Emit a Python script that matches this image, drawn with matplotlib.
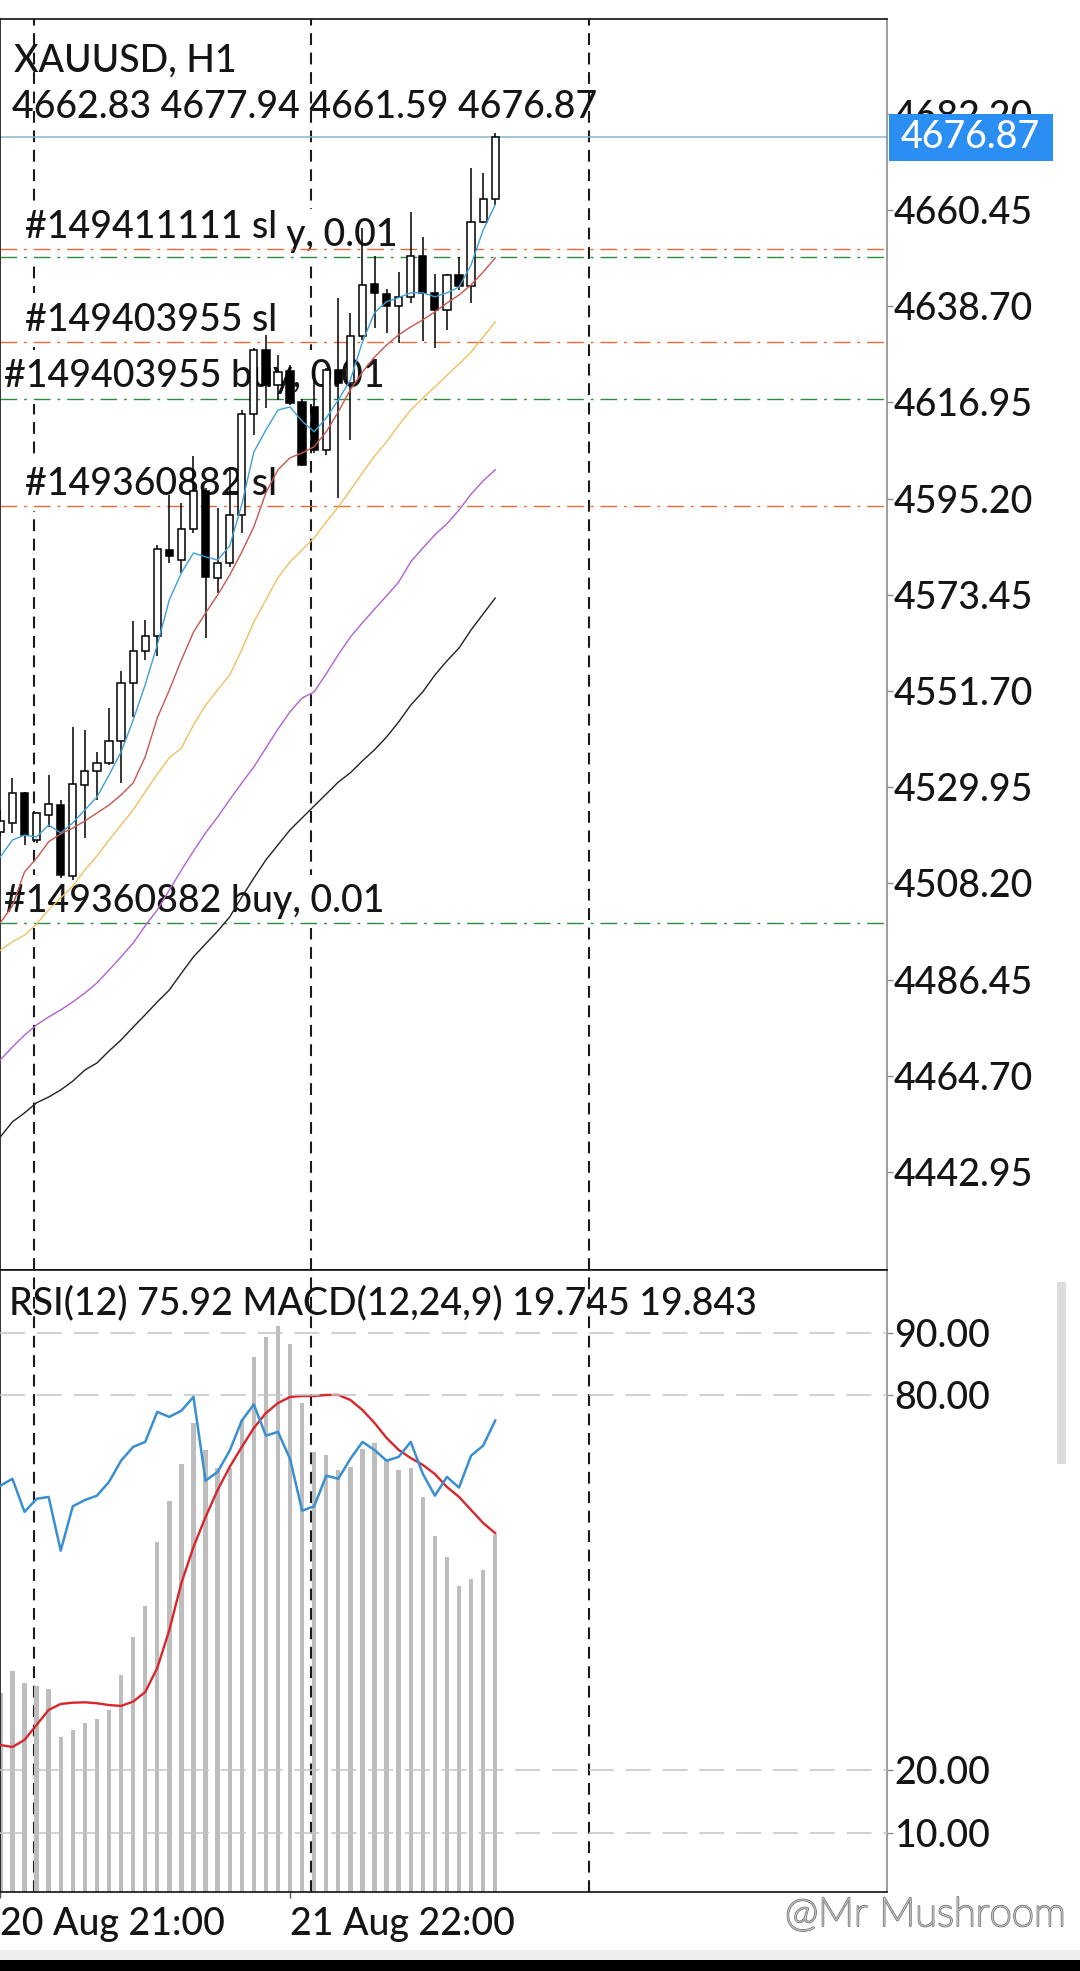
import matplotlib
matplotlib.use("Agg")
import matplotlib.pyplot as plt
import matplotlib.patheffects as pe
from matplotlib.patches import Rectangle
import numpy as np

plt.rcParams['font.family'] = ['Lato', 'DejaVu Sans']
plt.rcParams['font.weight'] = 'medium'
plt.rcParams['lines.scale_dashes'] = False

W, H = 1080, 1971

# XAUUSD H1 bars, oldest first
opens = [4519.9, 4521.8, 4528.6, 4518.0, 4523.7, 4525.9, 4509.9, 4530.5, 4533.5, 4535.4,
         4540.3, 4553.5, 4560.8, 4564.1, 4583.6, 4581.4, 4588.2, 4596.8, 4577.3, 4580.7,
         4591.5, 4614.3, 4628.8, 4620.9, 4624.0, 4617.1, 4615.9, 4606.2, 4624.3, 4621.3,
         4632.0, 4643.7, 4641.5, 4638.8, 4640.7, 4650.1, 4641.6, 4637.9, 4645.8, 4643.3,
         4657.8, 4662.83]
highs = [4524.8, 4532.0, 4528.9, 4524.3, 4532.7, 4527.1, 4543.6, 4542.9, 4538.0, 4547.8,
         4556.1, 4567.4, 4567.8, 4584.7, 4596.0, 4594.2, 4604.7, 4597.6, 4593.0, 4602.4,
         4615.2, 4629.2, 4632.2, 4627.7, 4625.4, 4617.6, 4624.3, 4624.7, 4640.5, 4637.2,
         4656.3, 4650.1, 4642.5, 4646.5, 4659.9, 4654.4, 4646.0, 4646.0, 4649.9, 4669.9,
         4668.8, 4677.94]
lows = [4518.9, 4519.5, 4516.9, 4517.3, 4521.0, 4509.5, 4509.0, 4518.4, 4527.1, 4535.0,
        4530.9, 4545.9, 4558.7, 4559.5, 4580.6, 4578.3, 4587.4, 4563.6, 4573.8, 4579.8,
        4587.4, 4609.6, 4615.6, 4617.5, 4616.4, 4602.5, 4605.5, 4605.1, 4595.3, 4608.5,
        4631.1, 4633.7, 4632.6, 4630.3, 4639.5, 4630.7, 4629.2, 4633.3, 4642.4, 4639.4,
        4657.5, 4661.59]
closes = [4522.2, 4528.7, 4519.2, 4524.0, 4526.2, 4510.1, 4530.7, 4533.5, 4535.4, 4540.3,
          4553.5, 4560.8, 4564.1, 4583.7, 4582.2, 4588.3, 4596.8, 4577.5, 4580.7, 4591.5,
          4614.3, 4628.8, 4620.9, 4623.9, 4616.8, 4602.8, 4606.2, 4624.3, 4621.3, 4632.0,
          4643.5, 4641.6, 4638.8, 4640.7, 4650.1, 4641.6, 4637.9, 4645.8, 4643.3, 4657.8,
          4662.8, 4676.87]

# moving averages
ma_blue = [4514.2, 4518.0, 4519.1, 4518.7, 4521.4, 4519.6, 4521.9, 4524.8, 4527.7, 4532.7,
           4537.9, 4545.1, 4553.1, 4562.1, 4572.3, 4578.4, 4582.9, 4582.0, 4581.3, 4584.5,
           4593.8, 4605.7, 4610.7, 4615.2, 4615.9, 4612.7, 4610.3, 4613.4, 4617.5, 4622.0,
           4630.6, 4637.2, 4639.7, 4640.6, 4641.7, 4641.7, 4640.8, 4641.7, 4643.0, 4648.0,
           4655.9, 4661.6]
ma_red = [4499.3, 4503.1, 4510.8, 4513.9, 4517.6, 4519.4, 4520.7, 4522.3, 4524.1, 4525.9,
          4528.2, 4530.9, 4536.8, 4545.6, 4551.9, 4558.7, 4565.0, 4569.3, 4573.4, 4577.9,
          4583.1, 4588.8, 4596.5, 4601.7, 4604.4, 4605.5, 4606.9, 4610.3, 4614.8, 4619.8,
          4623.8, 4627.2, 4629.9, 4632.2, 4634.0, 4635.6, 4637.4, 4639.4, 4641.2, 4643.5,
          4646.4, 4649.6]
ma_yellow = [4493.1, 4495.0, 4496.5, 4499.0, 4502.2, 4504.9, 4507.6, 4511.2, 4514.4, 4518.0,
             4521.4, 4524.8, 4528.9, 4532.9, 4536.6, 4538.8, 4544.0, 4548.5, 4551.9, 4555.3,
             4561.0, 4567.3, 4572.3, 4577.3, 4580.9, 4583.6, 4586.3, 4589.9, 4593.3, 4597.1,
             4601.0, 4604.8, 4608.0, 4611.8, 4615.2, 4617.9, 4620.4, 4623.1, 4625.6, 4628.3,
             4631.7, 4635.1]
ma_purple = [4468.3, 4471.2, 4473.9, 4476.2, 4478.0, 4479.6, 4481.4, 4483.4, 4485.7, 4488.6,
             4491.6, 4494.7, 4498.6, 4502.2, 4506.7, 4511.2, 4515.5, 4519.6, 4523.2, 4527.1,
             4530.9, 4534.5, 4538.8, 4543.1, 4547.0, 4550.1, 4551.5, 4555.6, 4559.9, 4563.9,
             4567.1, 4570.2, 4573.2, 4576.3, 4580.9, 4584.0, 4587.0, 4589.5, 4592.6, 4596.2,
             4599.2, 4601.7]
ma_black = [4450.9, 4454.3, 4456.3, 4458.6, 4459.9, 4461.5, 4463.5, 4466.0, 4467.6, 4470.3,
            4472.8, 4475.7, 4478.5, 4481.4, 4484.1, 4487.9, 4491.6, 4494.5, 4497.4, 4500.6,
            4505.1, 4509.4, 4513.5, 4516.9, 4520.3, 4523.0, 4525.7, 4528.4, 4531.1, 4533.2,
            4535.9, 4538.4, 4541.3, 4544.7, 4548.5, 4551.5, 4555.3, 4558.5, 4561.4, 4565.5,
            4569.1, 4572.7]

# RSI(12) and MACD(12,24,9)
rsi = [65.5, 66.6, 61.3, 63.4, 63.7, 55.1, 62.2, 63.2, 63.9, 66.1,
       69.5, 71.7, 72.5, 77.3, 76.5, 77.5, 79.7, 66.3, 67.7, 71.1,
       75.9, 78.5, 73.5, 74.1, 69.8, 61.5, 62.2, 67.1, 66.6, 69.8,
       72.5, 71.2, 69.5, 70.1, 72.5, 67.4, 63.9, 66.9, 65.2, 70.3,
       71.9, 75.92]
macd = [10.99, 12.24, 11.58, 11.39, 11.21, 8.56, 8.96, 9.33, 9.55, 10.07,
        12.00, 14.12, 15.82, 19.38, 21.64, 23.67, 25.96, 24.45, 23.43, 23.43,
        26.11, 29.57, 30.68, 31.31, 30.29, 27.03, 24.35, 24.17, 23.34, 23.49,
        24.49, 24.85, 23.93, 23.34, 23.43, 21.83, 19.69, 18.55, 16.92, 17.30,
        17.81, 19.745]
signal = [8.13, 8.02, 8.41, 9.24, 10.07, 10.40, 10.47, 10.49, 10.44, 10.34,
          10.29, 10.53, 11.06, 12.39, 14.49, 17.09, 19.08, 20.74, 22.23, 23.51,
          24.61, 25.66, 26.49, 27.04, 27.38, 27.43, 27.43, 27.49, 27.49, 27.21,
          26.66, 25.94, 25.11, 24.45, 24.00, 23.62, 23.12, 22.40, 21.85, 21.13,
          20.41, 19.843]

# open orders
order_labels = ['#149411111 buy, 0.01', '#149411111 sl', '#149403955 sl',
                '#149403955 buy, 0.01', '#149360882 sl', '#149360882 buy, 0.01']
order_prices = [4649.75, 4651.6, 4630.6, 4617.8, 4593.5, 4499.2]
order_kinds = ['buy', 'sl', 'sl', 'buy', 'sl', 'buy']
label_px = [17, 25, 25, 4, 25, 4]   # left edge of each label, px

price_ticks = [4682.20, 4660.45, 4638.70, 4616.95, 4595.20, 4573.45,
               4551.70, 4529.95, 4508.20, 4486.45, 4464.70, 4442.95]
rsi_levels = [90, 80, 20, 10]
day_start_bars = [3, 26, 49]
xtick_bars = [0, 24]
xtick_labels = ['20 Aug 21:00', '21 Aug 22:00']

x = np.arange(len(closes))
FS = 27

fig = plt.figure(figsize=(W / 100, H / 100), dpi=100)
fig.patch.set_facecolor('white')

def fy(py):
    return 1 - py / H

# ---------------- main price panel ----------------
ax = fig.add_axes([0, fy(1270), 887 / W, (1270 - 19) / H])
ax.set_xlim(-0.03, 73.46)
ax.set_ylim(4420.8, 4703.6)
for s in ['top', 'left', 'bottom']:
    ax.spines[s].set_color('#111111')
    ax.spines[s].set_linewidth(1.2)
ax.spines['right'].set_color('#8c8c8c')
ax.spines['right'].set_linewidth(1.2)
ax.set_xticks([])
ax.yaxis.tick_right()
ax.set_yticks(price_ticks)
ax.set_yticklabels([f'{v:.2f}' for v in price_ticks])
ax.tick_params(axis='y', length=4, width=1, color='#8c8c8c', pad=1,
               labelsize=FS, labelcolor='#151515')

for d in day_start_bars:
    ax.axvline(d - 0.25, color='#1a1a1a', lw=1.5, ls=(0, (8.5, 5.5)), zorder=1)

# order labels then order lines
for lab, p, k, px in zip(order_labels, order_prices, order_kinds, label_px):
    ax.annotate(lab, xy=(px / 887, p), xycoords=ax.get_yaxis_transform(),
                xytext=(0, 8), textcoords='offset points', fontsize=FS,
                color='#151515', va='baseline', ha='left', zorder=1.8,
                bbox=dict(boxstyle='square,pad=0.25', fc='white', ec='none'))
for p, k in zip(order_prices, order_kinds):
    col = '#e8693a' if k == 'sl' else '#2e8b3e'
    ax.axhline(p, color=col, lw=1.0, ls=(0, (12, 5, 2, 5)), zorder=2.2)

# last price line
ax.axhline(closes[-1], color='#86b7cf', lw=1.1, zorder=2.3)

# candles
o = np.array(opens); c = np.array(closes)
up = c >= o
ax.vlines(x, lows, highs, color='black', lw=1.1, zorder=3)
ax.bar(x, np.abs(c - o), bottom=np.minimum(o, c), width=0.6,
       color=np.where(up, 'white', 'black'), edgecolor='black', linewidth=1.1, zorder=3.2)

# moving averages
for ma, col in [(ma_black, '#222222'), (ma_purple, '#b060d6'), (ma_yellow, '#f0c060'),
                (ma_red, '#c8564e'), (ma_blue, '#3f9fd8')]:
    ax.plot(x, ma, color=col, lw=1.0, zorder=4)

# price tag on the axis
ax.add_patch(Rectangle((1.002, closes[-1] - 5.3), 0.185, 10.6,
                       transform=ax.get_yaxis_transform(), clip_on=False,
                       facecolor='#2b8ef2', edgecolor='none', zorder=10))
ax.text(1.0935, closes[-1], f'{closes[-1]:.2f}', transform=ax.get_yaxis_transform(),
        color='white', fontsize=FS, ha='center', va='center', zorder=11, clip_on=False)

fig.text(14 / W, fy(72), 'XAUUSD, H1', fontsize=FS, color='#151515', va='baseline')
fig.text(12 / W, fy(118), f'{opens[-1]:.2f} {highs[-1]:.2f} {lows[-1]:.2f} {closes[-1]:.2f}',
         fontsize=FS, color='#151515', va='baseline')

# ---------------- RSI + MACD panel ----------------
axm = fig.add_axes([0, fy(1892), 887 / W, (1892 - 1270) / H])
axm.set_xlim(-0.03, 73.46)
axm.set_ylim(0, 34.4)
axr = axm.twinx()
axr.set_ylim(0.5, 100)
axr.set_xlim(-0.03, 73.46)

for s in ['top', 'left', 'bottom']:
    axm.spines[s].set_color('#111111')
    axm.spines[s].set_linewidth(1.2)
axm.spines['right'].set_color('#8c8c8c')
axm.spines['right'].set_linewidth(1.2)
for s in axr.spines.values():
    s.set_visible(False)

axm.tick_params(axis='y', left=False, labelleft=False, right=False, labelright=False)
axm.set_xticks(xtick_bars)
axm.set_xticklabels(xtick_labels)
for lbl in axm.get_xticklabels():
    lbl.set_ha('left')
axm.tick_params(axis='x', length=4, width=1, color='#555555', pad=7,
                labelsize=FS, labelcolor='#151515')

axr.set_yticks(rsi_levels)
axr.set_yticklabels([f'{v:.2f}' for v in rsi_levels])
axr.tick_params(axis='y', length=4, width=1, color='#8c8c8c', pad=1,
                labelsize=FS, labelcolor='#151515')

for lv in rsi_levels:
    axr.axhline(lv, color='#c4c4c4', lw=1.1, ls=(0, (18, 8.5)), zorder=1)
for d in day_start_bars:
    axm.axvline(d - 0.25, color='#1a1a1a', lw=1.5, ls=(0, (8.5, 5.5)), zorder=1)

axm.bar(x, macd, width=0.36, color='#bdbdbd', zorder=2)
axm.plot(x, signal, color='#d9262c', lw=1.7, zorder=3)
axr.plot(x, rsi, color='#3a8fd0', lw=1.8, zorder=3)

fig.text(9 / W, fy(1314),
         f'RSI(12) {rsi[-1]:.2f} MACD(12,24,9) {macd[-1]:.3f} {signal[-1]:.3f}',
         fontsize=FS, color='#151515', va='baseline')

# scrollbar, watermark and bottom bar of the screenshot
fig.patches.append(Rectangle((1057 / W, fy(1464)), 9 / W, (1464 - 1282) / H,
                             transform=fig.transFigure, facecolor='#dddddd', edgecolor='none'))
fig.text(785 / W, fy(1926), '@Mr Mushroom', fontsize=29, color='white', fontweight='light',
         va='baseline', path_effects=[pe.withStroke(linewidth=1.6, foreground='#8a8a8a')])
fig.patches.append(Rectangle((0, fy(1960)), 1, 10 / H, transform=fig.transFigure,
                             facecolor='#eeeeee', edgecolor='none'))
fig.patches.append(Rectangle((0, 0), 1, 11 / H, transform=fig.transFigure,
                             facecolor='black', edgecolor='none'))

fig.savefig('out.png', dpi=100, facecolor='white')
